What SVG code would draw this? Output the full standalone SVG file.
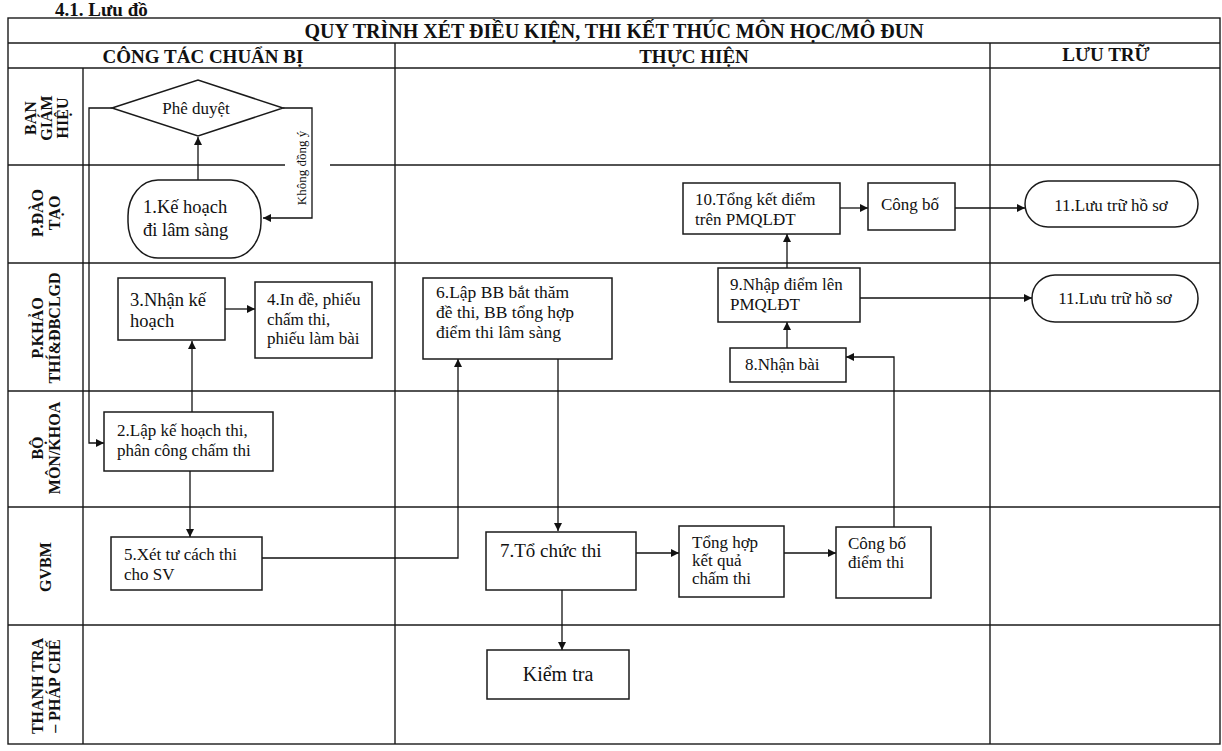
<svg xmlns="http://www.w3.org/2000/svg" width="1222" height="751" viewBox="0 0 1222 751">
<defs>
<marker id="ah" viewBox="0 0 10 10" refX="10" refY="5" markerWidth="9" markerHeight="8" markerUnits="userSpaceOnUse" orient="auto">
<path d="M0,0 L10,5 L0,10 z" fill="#111"/>
</marker>
</defs>
<style>
.grid{stroke:#1a1a1a;stroke-width:1.4;fill:none}
.box{fill:#fff;stroke:#1a1a1a;stroke-width:1.5}
.t{font-family:"Liberation Serif","Times New Roman",serif;fill:#111}
.hb{font-family:"Liberation Serif","Times New Roman",serif;font-weight:bold;fill:#111}
.lane{font-family:"Liberation Serif","Times New Roman",serif;font-weight:bold;font-size:16px;fill:#111;text-anchor:middle}
.c{fill:none;stroke:#111;stroke-width:1.3;marker-end:url(#ah)}
</style>
<rect width="1222" height="751" fill="#fff"/>
<text class="hb" x="55" y="16" font-size="19">4.1. Lưu đồ</text>
<g id="frame">
<rect class="grid" x="8" y="18" width="1212" height="726"/>
<line class="grid" x1="8" y1="43" x2="1220" y2="43"/>
<line class="grid" x1="8" y1="68" x2="1220" y2="68"/>
<line class="grid" x1="8" y1="165" x2="1220" y2="165"/>
<line class="grid" x1="8" y1="263" x2="1220" y2="263"/>
<line class="grid" x1="8" y1="391" x2="1220" y2="391"/>
<line class="grid" x1="8" y1="507" x2="1220" y2="507"/>
<line class="grid" x1="8" y1="625" x2="1220" y2="625"/>
<line class="grid" x1="83" y1="68" x2="83" y2="744"/>
<line class="grid" x1="395" y1="43" x2="395" y2="744"/>
<line class="grid" x1="990" y1="43" x2="990" y2="744"/>
<rect x="285" y="162" width="45" height="6" fill="#fff"/>
<text class="hb" x="614" y="38" font-size="20" text-anchor="middle">QUY TRÌNH XÉT ĐIỀU KIỆN, THI KẾT THÚC MÔN HỌC/MÔ ĐUN</text>
<text class="hb" x="203" y="63" font-size="19" text-anchor="middle">CÔNG TÁC CHUẨN BỊ</text>
<text class="hb" x="694" y="63" font-size="19" text-anchor="middle">THỰC HIỆN</text>
<text class="hb" x="1106" y="61" font-size="19" text-anchor="middle">LƯU TRỮ</text>
</g>
<g id="lanes">
<text class="lane" transform="translate(45,118) rotate(-90)"><tspan x="0" y="-9">BAN</tspan><tspan x="0" y="7">GIÁM</tspan><tspan x="0" y="23">HIỆU</tspan></text>
<text class="lane" transform="translate(45,213) rotate(-90)"><tspan x="0" y="-2">P.ĐÀO</tspan><tspan x="0" y="15">TẠO</tspan></text>
<text class="lane" transform="translate(45,328) rotate(-90)"><tspan x="0" y="-2">P.KHẢO</tspan><tspan x="0" y="15">THÍ&amp;ĐBCLGD</tspan></text>
<text class="lane" transform="translate(45,448) rotate(-90)"><tspan x="0" y="-2">BỘ</tspan><tspan x="0" y="15">MÔN/KHOA</tspan></text>
<text class="lane" transform="translate(45,567) rotate(-90)"><tspan x="0" y="6">GVBM</tspan></text>
<text class="lane" transform="translate(45,686) rotate(-90)"><tspan x="0" y="-2">THANH TRA</tspan><tspan x="0" y="15">– PHÁP CHẾ</tspan></text>
</g>
<g id="connectors">
<path class="c" d="M198,180 L198,137"/>
<path class="c" d="M283,108 L312,108 L312,218 L263,218"/>
<path class="c" d="M112,108 L89,108 L89,443 L104,443"/>
<path class="c" d="M192,412 L192,341"/>
<path class="c" d="M225,309 L255,309"/>
<path class="c" d="M190,471 L190,537"/>
<path class="c" d="M262,558 L458,558 L458,359"/>
<path class="c" d="M558,359 L558,531"/>
<path class="c" d="M636,553 L679,553"/>
<path class="c" d="M784,553 L836,553"/>
<path class="c" d="M894,527 L894,357 L846,357"/>
<path class="c" d="M787,348 L787,322"/>
<path class="c" d="M787,268 L787,234"/>
<path class="c" d="M860,298 L1032,298"/>
<path class="c" d="M840,208 L868,208"/>
<path class="c" d="M955,208 L1025,208"/>
<path class="c" d="M562,590 L562,650"/>
<text class="t" font-size="13" transform="translate(306,168) rotate(-90)" text-anchor="middle">Không đồng ý</text>
</g>
<g id="n-pheduyet">
<polygon class="box" points="112,108 198,80 283,108 198,136"/>
<text class="t" font-size="17" x="196" y="114" text-anchor="middle">Phê duyệt</text>
</g>
<g id="n1">
<rect class="box" x="128" y="180" width="133" height="78" rx="30" ry="36"/>
<text class="t" font-size="18.5"><tspan x="143" y="213">1.Kế hoạch</tspan><tspan x="143" y="236">đi lâm sàng</tspan></text>
</g>
<g id="n3">
<rect class="box" x="118" y="278" width="107" height="62"/>
<text class="t" font-size="18.5"><tspan x="130" y="306">3.Nhận kế</tspan><tspan x="130" y="327">hoạch</tspan></text>
</g>
<g id="n4">
<rect class="box" x="255" y="282" width="117" height="76"/>
<text class="t" font-size="17"><tspan x="267" y="305">4.In đề, phiếu</tspan><tspan x="267" y="325">chấm thi,</tspan><tspan x="267" y="344">phiếu làm bài</tspan></text>
</g>
<g id="n2">
<rect class="box" x="104" y="412" width="169" height="59"/>
<text class="t" font-size="17"><tspan x="117" y="436">2.Lập kế hoạch thi,</tspan><tspan x="117" y="456">phân công chấm thi</tspan></text>
</g>
<g id="n5">
<rect class="box" x="111" y="537" width="151" height="53"/>
<text class="t" font-size="17"><tspan x="124" y="560">5.Xét tư cách thi</tspan><tspan x="124" y="580">cho SV</tspan></text>
</g>
<g id="n6">
<rect class="box" x="423" y="278" width="189" height="81"/>
<text class="t" font-size="17.5"><tspan x="436" y="298">6.Lập BB bắt thăm</tspan><tspan x="436" y="318">đề  thi, BB tổng hợp</tspan><tspan x="436" y="338">điểm thi lâm sàng</tspan></text>
</g>
<g id="n7">
<rect class="box" x="486" y="532" width="150" height="58"/>
<text class="t" x="500" y="557" font-size="19">7.Tổ chức thi</text>
</g>
<g id="n-tonghop">
<rect class="box" x="679" y="526" width="105" height="71"/>
<text class="t" font-size="17"><tspan x="692" y="548">Tổng hợp</tspan><tspan x="692" y="566">kết quả</tspan><tspan x="692" y="584">chấm thi</tspan></text>
</g>
<g id="n-congbodiem">
<rect class="box" x="836" y="527" width="95" height="71"/>
<text class="t" font-size="17"><tspan x="848" y="549">Công bố</tspan><tspan x="848" y="568">điểm thi</tspan></text>
</g>
<g id="n8">
<rect class="box" x="730" y="348" width="116" height="34"/>
<text class="t" font-size="17" x="745" y="370">8.Nhận bài</text>
</g>
<g id="n9">
<rect class="box" x="718" y="268" width="142" height="54"/>
<text class="t" font-size="17"><tspan x="730" y="290">9.Nhập điểm lên</tspan><tspan x="730" y="310">PMQLĐT</tspan></text>
</g>
<g id="n10">
<rect class="box" x="683" y="183" width="157" height="51"/>
<text class="t" font-size="17"><tspan x="695" y="205">10.Tổng kết điểm</tspan><tspan x="695" y="225">trên PMQLĐT</tspan></text>
</g>
<g id="n-congbo">
<rect class="box" x="868" y="183" width="87" height="47"/>
<text class="t" font-size="17" x="881" y="210">Công bố</text>
</g>
<g id="n11a">
<rect class="box" x="1025" y="181" width="173" height="46" rx="23"/>
<text class="t" font-size="17" x="1111" y="211" text-anchor="middle">11.Lưu trữ hồ sơ</text>
</g>
<g id="n11b">
<rect class="box" x="1032" y="275" width="166" height="47" rx="23"/>
<text class="t" font-size="17" x="1115" y="304" text-anchor="middle">11.Lưu trữ hồ sơ</text>
</g>
<g id="n-kiemtra">
<rect class="box" x="487" y="650" width="142" height="49"/>
<text class="t" x="558" y="681" font-size="20" text-anchor="middle">Kiểm tra</text>
</g>
</svg>
